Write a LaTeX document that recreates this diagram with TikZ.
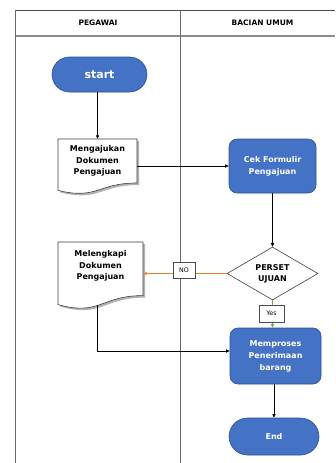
\documentclass[tikz,border=0pt]{standalone}
\usepackage{fontspec}
\setmainfont{DejaVu Sans}
\usetikzlibrary{shapes.geometric,arrows.meta,calc}
\definecolor{boxblue}{HTML}{4472C4}
\definecolor{boxedge}{HTML}{2F528F}
\definecolor{noorange}{HTML}{ED7D31}
\definecolor{yesgreen}{HTML}{70AD47}
\definecolor{framegray}{HTML}{6A6A6A}
\begin{document}
\begin{tikzpicture}[x=1pt,y=-1pt,
  lane/.style={draw=framegray,line width=0.9pt},
  hdr/.style={font=\fontsize{7.5}{9}\selectfont\bfseries,inner sep=0pt},
  bluebox/.style={draw=boxedge,fill=boxblue,line width=0.6pt,rounded corners=8pt,text=white,
    font=\fontsize{8}{12}\selectfont\bfseries,align=center,inner sep=0pt},
  terminal/.style={bluebox,rounded corners=17.5pt},
  doctext/.style={font=\fontsize{8}{11.5}\selectfont\bfseries,align=center,inner sep=0pt},
  docline/.style={draw=black!75,line width=0.6pt,fill=white},
  docshadow/.style={fill=black!30},
  decision/.style={diamond,draw=black!75,line width=0.6pt,fill=white,inner sep=0pt,
    aspect=1.72,minimum width=91pt,minimum height=53pt,
    font=\fontsize{8}{11}\selectfont\bfseries,align=center},
  lbl/.style={draw=black!70,line width=0.5pt,fill=white,inner sep=0pt,font=\fontsize{6.3}{8}\selectfont},
  arr/.style={draw=black,line width=0.8pt,-{Triangle[length=3.5pt,width=3.2pt]}},
  noarr/.style={draw=noorange,line width=0.8pt,-{Triangle[length=3.5pt,width=3.2pt]}},
  yesarr/.style={draw=yesgreen,line width=0.8pt,-{Triangle[length=3.5pt,width=3.2pt]}}
]
\fill[white] (0,0) rectangle (335,463);
\useasboundingbox (0,0) rectangle (335,463);

% swimlane frame
\draw[draw=black!70,line width=0.8pt] (15,10) -- (335,10);
\draw[draw=black!45,line width=1.2pt] (15,36) -- (335,36);
\draw[lane] (15,10) -- (15,463);
\draw[lane] (180,10) -- (180,463);
\node[hdr] (h1) at (98,23) {PEGAWAI};
\node[hdr] (h2) at (262.5,23) {BACIAN UMUM};

% document shapes
\fill[docshadow] (60,141) -- (139,141) -- (139,185) .. controls (99.5,185) and (99.5,202) .. (60,192.4) -- cycle;
\draw[docline] (58,139) -- (137,139) -- (137,183) .. controls (97.5,183) and (97.5,200) .. (58,190.4) -- cycle;
\node[doctext,minimum width=79pt,minimum height=44pt] (doc1) at (97.5,161) {Mengajukan\\Dokumen\\Pengajuan};

\fill[docshadow] (60,244) -- (145,244) -- (145,297.6) .. controls (102.5,297.6) and (102.5,318.2) .. (60,306.6) -- cycle;
\draw[docline] (58,242) -- (143,242) -- (143,295.6) .. controls (100.5,295.6) and (100.5,316.2) .. (58,304.6) -- cycle;
\node[doctext,minimum width=85pt,minimum height=48pt] (doc2) at (100.5,266) {Melengkapi\\Dokumen\\Pengajuan};
\coordinate (d2bot) at (97,305);

% blue shapes
\node[terminal,font=\fontsize{11}{13}\selectfont\bfseries,minimum width=95pt,minimum height=35pt] (start) at (99.5,74.5) {start};
\node[bluebox,minimum width=87pt,minimum height=54pt] (cek) at (272.5,166) {Cek Formulir\\Pengajuan};
\node[decision] (dia) at (272.5,273.5) {PERSET\\UJUAN};
\node[bluebox,minimum width=91pt,minimum height=56pt] (mem) at (275.5,356) {Memproses\\Penerimaan\\barang};
\node[terminal,rounded corners=18.5pt,minimum width=90pt,minimum height=37pt] (end) at (274,436.5) {End};

% connectors
\draw[arr] (start.south -| doc1.north) -- (doc1.north);
\draw[arr] (doc1.east |- cek.west) -- (cek.west);
\draw[arr] (cek.south) -- (dia.north);
\draw[noarr] (dia.west) -- (dia.west -| doc2.east);
\draw[yesarr] (dia.south) -- (dia.south |- mem.north);
\draw[arr] (d2bot) |- ($(mem.west)+(0,-5)$);
\draw[arr] (end.north |- mem.south) -- (end.north);

% labels
\node[lbl,minimum width=22pt,minimum height=16pt] (no) at (184,270) {NO};
\node[lbl,minimum width=25pt,minimum height=17pt] (yes) at (271.5,313.5) {Yes};
\end{tikzpicture}
\end{document}
